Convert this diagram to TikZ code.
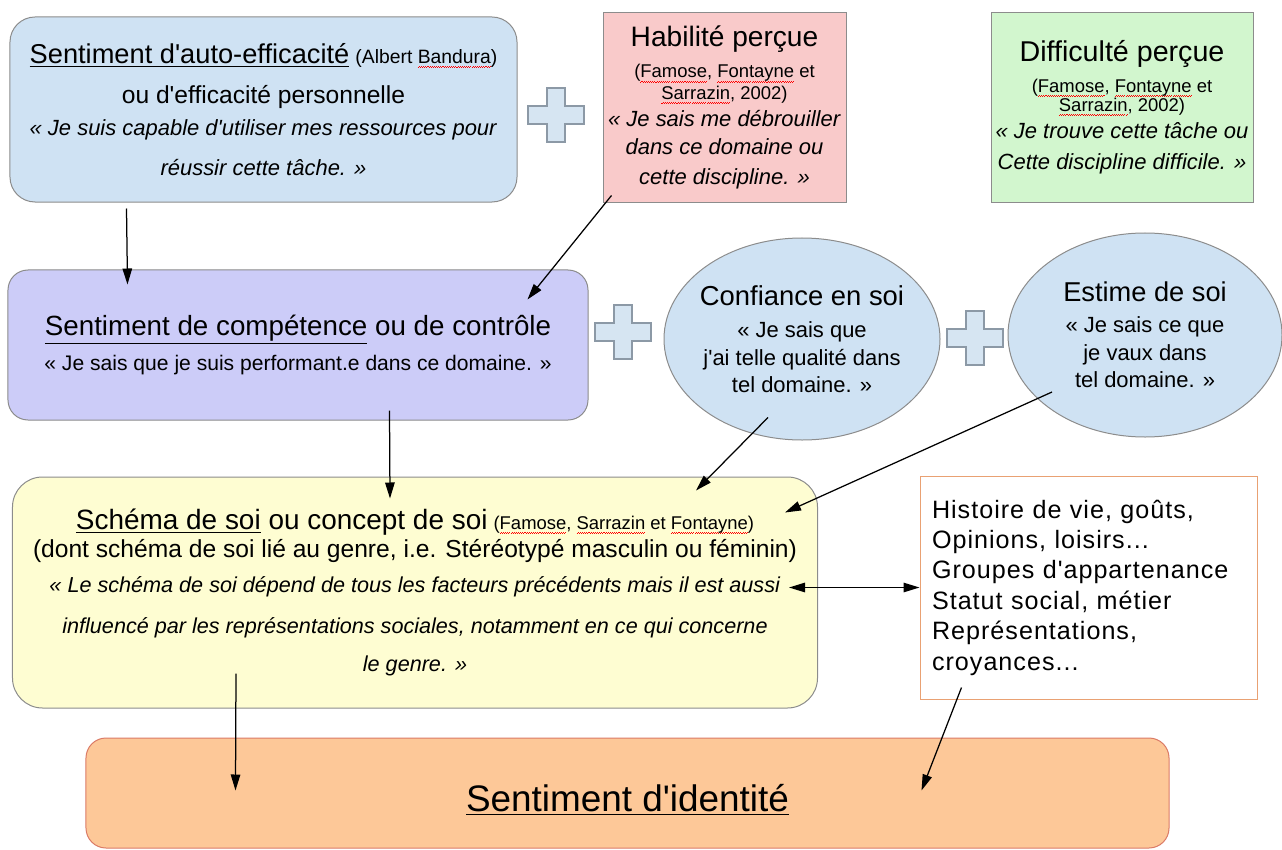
\documentclass[tikz,border=0pt]{standalone}
\usepackage{fontspec}
\setmainfont{Liberation Sans}[Ligatures={TeXOff,NoCommon}]
\usetikzlibrary{arrows.meta,shapes.geometric}

\definecolor{bleuclair}{HTML}{CFE2F3}
\definecolor{rose}{HTML}{F9CACA}
\definecolor{vertclair}{HTML}{D2F6CE}
\definecolor{lavande}{HTML}{CCCCF8}
\definecolor{jaunepale}{HTML}{FEFDD2}
\definecolor{peche}{HTML}{FDC898}
\definecolor{orangebord}{HTML}{E9A173}
\definecolor{rougebord}{HTML}{DB7B66}
\definecolor{grisbord}{HTML}{8C8C8C}
\definecolor{bleuplus}{HTML}{D6E5F2}
\definecolor{grisplus}{HTML}{8C99A6}

\newsavebox\fautebox
\newcommand\faute[1]{\sbox\fautebox{#1}\leavevmode\rlap{\color{red}\hbox to\wd\fautebox{\xleaders\hbox{\rule[-2.4pt]{0.6pt}{0.35pt}\rule[-1.9pt]{0.6pt}{0.35pt}}\hfill}}\usebox\fautebox}
\newcommand\signeplus[1]{\draw[croix, shift={(#1)}] (-28,-9) -- (-9,-9) -- (-9,-27) -- (9,-27) -- (9,-9) -- (28,-9) -- (28,9) -- (9,9) -- (9,27) -- (-9,27) -- (-9,9) -- (-28,9) -- cycle;}

\begin{document}
\begin{tikzpicture}[x=0.2mm, y=-0.2mm, >={Triangle[length=3.2mm,width=1.9mm]},
    boite/.style={draw=grisbord, line width=0.2mm, align=center, inner sep=0pt},
    arrondi/.style={boite, rounded corners=5mm},
    bulle/.style={boite, ellipse, fill=bleuclair, inner xsep=-1mm},
    fleche/.style={->, line width=0.25mm},
    croix/.style={draw=grisplus, fill=bleuplus, line width=0.25mm}]
  \useasboundingbox (0,0) rectangle (1282,850);

  \node[arrondi, fill=bleuclair, minimum width=101.4mm, minimum height=37mm, font=\fontsize{12.5}{22.7}\selectfont] (autoeff) at (263.5,109.5)
    {{\fontsize{15.5}{22.7}\selectfont\underline{Sentiment d'auto-efficacité}} {\fontsize{11}{22.7}\selectfont(Albert \faute{Bandura})}\\
     {\fontsize{14}{22.7}\selectfont ou d'efficacité personnelle}\\[-4.6pt]
     \textit{« Je suis capable d'utiliser mes ressources pour}\\
     \textit{réussir cette tâche. »}};
  \node[boite, fill=rose, minimum width=48.6mm, minimum height=37.8mm, font=\fontsize{12.5}{17.5}\selectfont] (habilete) at (724.5,107.5)
    {{\fontsize{16}{17.5}\selectfont Habilité perçue}\\[0.5pt]
     {\fontsize{10.5}{17.5}\selectfont(\faute{Famose}, \faute{Fontayne} et}\\[-5.5pt]
     {\fontsize{10.5}{17.5}\selectfont\faute{Sarrazin}, 2002)}\\[-1.7pt]
     \textit{« Je sais me débrouiller}\\[-2pt]
     \textit{dans ce domaine ou}\\
     \textit{cette discipline. »}};
  \node[boite, fill=vertclair, minimum width=52.4mm, minimum height=37.8mm, font=\fontsize{12.5}{17.5}\selectfont] (difficulte) at (1122,107.5)
    {{\fontsize{16.3}{17.5}\selectfont Difficulté perçue}\\
     {\fontsize{10.5}{17.5}\selectfont(\faute{Famose}, \faute{Fontayne} et}\\[-6.7pt]
     {\fontsize{10.5}{17.5}\selectfont\faute{Sarrazin}, 2002)}\\[-2.2pt]
     \textit{« Je trouve cette tâche ou}\\[0.6pt]
     \textit{Cette discipline difficile. »}};

  \node[arrondi, rounded corners=4mm, fill=lavande, minimum width=116mm, minimum height=30mm, font=\fontsize{12}{20}\selectfont] (competence) at (298,345)
    {{\fontsize{15.8}{20}\selectfont\underline{Sentiment de compétence} ou de contrôle}\\
     « Je sais que je suis performant.e dans ce domaine. »};
  \node[bulle, minimum width=55.2mm, minimum height=40.4mm, font=\fontsize{12.5}{15.6}\selectfont] (confiance) at (802,339)
    {{\fontsize{15.6}{15.6}\selectfont Confiance en soi}\\[3pt]
     « Je sais que\\ j'ai telle qualité dans\\ tel domaine. »};
  \node[bulle, minimum width=54.8mm, minimum height=40.8mm, font=\fontsize{12.5}{15.6}\selectfont] (estime) at (1145,335)
    {{\fontsize{15.5}{15.6}\selectfont Estime de soi}\\[2pt]
     « Je sais ce que\\ je vaux dans\\ tel domaine. »};

  \node[arrondi, rounded corners=6mm, fill=jaunepale, minimum width=161mm, minimum height=46.2mm, font=\fontsize{12.3}{21.5}\selectfont] (schema) at (415,592.5)
    {{\fontsize{15.9}{21.5}\selectfont\underline{Schéma de soi} ou concept de soi} {\fontsize{10.5}{21.5}\selectfont(\faute{Famose}, \faute{Sarrazin} et \faute{Fontayne})}\\[-5.5pt]
     {\fontsize{14}{21.5}\selectfont(dont schéma de soi lié au genre, i.e. Stéréotypé masculin ou féminin)}\\[-1.5pt]
     \textit{« Le schéma de soi dépend de tous les facteurs précédents mais il est aussi}\\[2pt]
     \textit{influencé par les représentations sociales, notamment en ce qui concerne}\\
     \textit{le genre. »}};
  \node[boite, draw=orangebord, fill=white, text width=62.6mm, inner xsep=2.4mm, minimum height=44.6mm, align=left, font=\fontsize{14.3}{17.3}\selectfont\addfontfeature{LetterSpace=4}] (histoire) at (1088.5,587.5)
    {Histoire de vie, goûts,\\ Opinions, loisirs...\\ Groupes d'appartenance\\ Statut social, métier\\ Représentations,\\ croyances...};
  \node[arrondi, rounded corners=4mm, draw=rougebord, fill=peche, minimum width=216.6mm, minimum height=22mm, font=\fontsize{21}{24}\selectfont] (identite) at (627.5,793)
    {\raisebox{-1.4mm}[\height][\depth]{\underline{Sentiment d'identité}}};

  \signeplus{556,115}
  \signeplus{623,332}
  \signeplus{975,338}

  \draw[fleche] ([shift={(117,6)}]autoeff.south west) -- ([shift={(120,15)}]competence.north west);
  \draw[fleche] ([shift={(9,-7)}]habilete.south west) -- ([shift={(-61,30)}]competence.north east);
  \draw[fleche] ([shift={(382,-10)}]competence.south west) -- ([shift={(378,22)}]schema.north west);
  \draw[fleche] ([shift={(-34,-23)}]confiance.south) -- ([shift={(684,14)}]schema.north west);
  \draw[fleche] ([shift={(-93,57)}]estime.center) -- ([shift={(-33,36)}]schema.north east);
  \draw[fleche, <->] ([shift={(-29,-5)}]schema.east) -- (histoire.west);
  \draw[fleche] ([shift={(224,-35)}]schema.south west) -- ([shift={(150,53)}]identite.north west);
  \draw[fleche] ([shift={(42,-12)}]histoire.south west) -- ([shift={(-248,53)}]identite.north east);
\end{tikzpicture}
\end{document}
